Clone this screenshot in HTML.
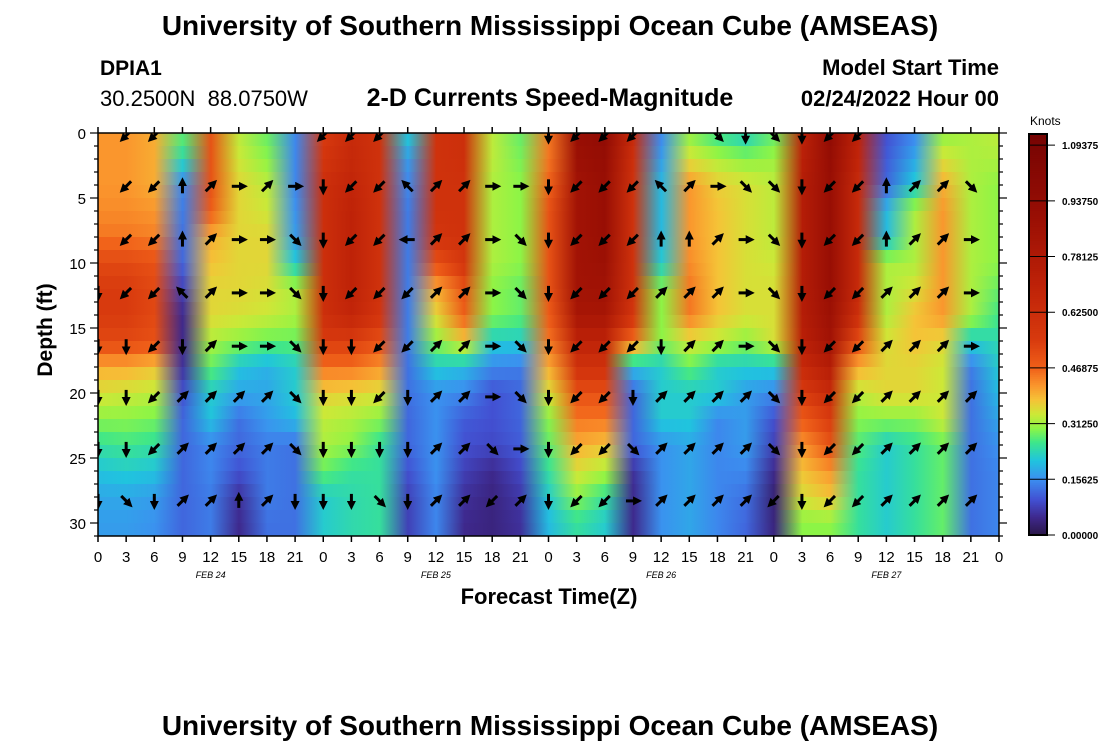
<!DOCTYPE html>
<html><head><meta charset="utf-8">
<style>
body{margin:0;background:#fff;width:1100px;height:750px;overflow:hidden;font-family:"Liberation Sans",Arial,sans-serif;}
svg text{font-family:"Liberation Sans",Arial,sans-serif;}
</style></head>
<body>
<svg id="chart" width="1100" height="750" xmlns="http://www.w3.org/2000/svg">
<defs id="defs">
<clipPath id="plotclip"><rect x="98" y="133" width="901" height="403"/></clipPath>
<marker id="ah" markerWidth="9" markerHeight="9" refX="2" refY="4.5" orient="auto" markerUnits="userSpaceOnUse"><path d="M0,0 L9,4.5 L0,9 z" fill="#000"/></marker>
</defs>
<text x="550" y="35" text-anchor="middle" font-size="28" font-weight="bold">University of Southern Mississippi Ocean Cube (AMSEAS)</text>
<text x="100" y="75" font-size="21" font-weight="bold">DPIA1</text>
<text x="100" y="106" font-size="22" xml:space="preserve">30.2500N  88.0750W</text>
<text x="550" y="106" text-anchor="middle" font-size="25" font-weight="bold">2-D Currents Speed-Magnitude</text>
<text x="999" y="75" text-anchor="end" font-size="22" font-weight="bold">Model Start Time</text>
<text x="999" y="106" text-anchor="end" font-size="22" font-weight="bold">02/24/2022 Hour 00</text>
<g id="heat" clip-path="url(#plotclip)"><g id="cells"></g></g>
<g id="arrows" clip-path="url(#plotclip)"></g>
<rect x="98" y="133" width="901" height="403" fill="none" stroke="#000" stroke-width="1.5"/>
<g id="axes"></g>
<text x="549" y="604" text-anchor="middle" font-size="22" font-weight="bold">Forecast Time(Z)</text>
<text transform="translate(52,330) rotate(-90)" text-anchor="middle" font-size="21" font-weight="bold">Depth (ft)</text>
<g id="colorbar"></g>
<text x="1030" y="125" font-size="12">Knots</text>
<text x="550" y="735" text-anchor="middle" font-size="28" font-weight="bold">University of Southern Mississippi Ocean Cube (AMSEAS)</text>
</svg>
<script>
// ---- data ----
const hours = [0,3,6,9,12,15,18,21,24,27,30,33,36,39,42,45,48,51,54,57,60,63,66,69,72,75,78,81,84,87,90,93,96];
const depths = [0,2,4,6,8,10,12,14,16,18,20,22,24,26,28,30];
const speedT0  = [0.42,0.42,0.42,0.43,0.45,0.52,0.55,0.55,0.52,0.40,0.35,0.30,0.25,0.21,0.18,0.17];
const speedT3  = [0.42,0.42,0.42,0.43,0.45,0.52,0.55,0.55,0.52,0.40,0.34,0.30,0.26,0.22,0.18,0.17];
const speedT6  = [0.40,0.40,0.40,0.42,0.44,0.50,0.52,0.52,0.50,0.38,0.33,0.29,0.25,0.21,0.17,0.16];
const speedT9  = [0.28,0.24,0.15,0.14,0.13,0.12,0.08,0.05,0.05,0.06,0.10,0.12,0.12,0.12,0.12,0.12];
const speedT12 = [0.50,0.50,0.50,0.48,0.40,0.38,0.36,0.36,0.32,0.28,0.22,0.21,0.15,0.15,0.14,0.14];
const speedT15 = [0.33,0.34,0.36,0.36,0.36,0.36,0.36,0.35,0.30,0.21,0.18,0.13,0.12,0.10,0.06,0.05];
const speedT18 = [0.28,0.30,0.33,0.34,0.36,0.36,0.35,0.34,0.28,0.19,0.18,0.17,0.14,0.14,0.14,0.13];
const speedT21 = [0.15,0.15,0.15,0.16,0.17,0.22,0.32,0.32,0.28,0.22,0.22,0.20,0.13,0.13,0.13,0.13];
const speedT24 = [0.55,0.58,0.62,0.62,0.62,0.62,0.62,0.62,0.55,0.45,0.37,0.33,0.32,0.28,0.22,0.22];
const speedT27 = [0.65,0.66,0.68,0.70,0.70,0.70,0.70,0.68,0.55,0.45,0.36,0.32,0.30,0.25,0.24,0.24];
const speedT30 = [0.60,0.60,0.60,0.60,0.60,0.60,0.60,0.58,0.50,0.42,0.35,0.30,0.25,0.25,0.25,0.25];
const speedT33 = [0.22,0.17,0.15,0.14,0.14,0.14,0.14,0.14,0.14,0.13,0.13,0.12,0.12,0.10,0.08,0.08];
const speedT36 = [0.60,0.60,0.60,0.60,0.58,0.50,0.40,0.36,0.30,0.22,0.16,0.16,0.16,0.16,0.15,0.15];
const speedT39 = [0.62,0.62,0.60,0.60,0.60,0.58,0.50,0.48,0.37,0.20,0.15,0.11,0.10,0.08,0.06,0.05];
const speedT42 = [0.33,0.33,0.32,0.32,0.32,0.32,0.30,0.30,0.22,0.15,0.10,0.10,0.09,0.05,0.04,0.04];
const speedT45 = [0.28,0.29,0.30,0.30,0.30,0.30,0.28,0.28,0.22,0.14,0.12,0.12,0.11,0.09,0.07,0.06];
const speedT48 = [0.45,0.45,0.47,0.50,0.50,0.50,0.50,0.48,0.45,0.40,0.35,0.30,0.28,0.25,0.22,0.20];
const speedT51 = [0.90,0.88,0.85,0.85,0.85,0.85,0.85,0.82,0.70,0.60,0.50,0.45,0.40,0.35,0.30,0.25];
const speedT54 = [0.95,0.92,0.90,0.90,0.90,0.88,0.86,0.82,0.70,0.60,0.50,0.45,0.38,0.32,0.25,0.22];
const speedT57 = [0.65,0.62,0.60,0.60,0.60,0.60,0.60,0.58,0.45,0.20,0.12,0.12,0.12,0.06,0.05,0.05];
const speedT60 = [0.15,0.17,0.20,0.20,0.20,0.22,0.30,0.30,0.30,0.22,0.22,0.22,0.16,0.16,0.16,0.16];
const speedT63 = [0.30,0.35,0.42,0.42,0.42,0.43,0.45,0.45,0.35,0.28,0.22,0.22,0.18,0.18,0.18,0.18];
const speedT66 = [0.25,0.32,0.37,0.38,0.38,0.38,0.38,0.38,0.33,0.22,0.22,0.15,0.15,0.15,0.15,0.15];
const speedT69 = [0.22,0.30,0.35,0.35,0.35,0.35,0.35,0.35,0.30,0.22,0.17,0.17,0.17,0.15,0.13,0.12];
const speedT72 = [0.28,0.31,0.33,0.33,0.33,0.34,0.35,0.35,0.35,0.22,0.15,0.10,0.08,0.05,0.03,0.04];
const speedT75 = [0.70,0.72,0.75,0.75,0.75,0.75,0.75,0.75,0.72,0.65,0.55,0.48,0.42,0.38,0.35,0.30];
const speedT78 = [0.95,0.92,0.90,0.90,0.90,0.90,0.90,0.88,0.85,0.75,0.65,0.55,0.50,0.42,0.38,0.30];
const speedT81 = [0.70,0.68,0.65,0.65,0.65,0.65,0.65,0.62,0.50,0.40,0.33,0.30,0.27,0.25,0.25,0.25];
const speedT84 = [0.10,0.11,0.12,0.20,0.20,0.32,0.32,0.32,0.35,0.36,0.36,0.30,0.22,0.22,0.22,0.22];
const speedT87 = [0.15,0.18,0.22,0.32,0.32,0.32,0.35,0.38,0.38,0.36,0.36,0.30,0.25,0.25,0.25,0.25];
const speedT90 = [0.30,0.35,0.40,0.42,0.42,0.42,0.42,0.42,0.36,0.34,0.34,0.34,0.28,0.28,0.28,0.28];
const speedT93 = [0.32,0.32,0.32,0.32,0.32,0.32,0.32,0.32,0.22,0.14,0.13,0.13,0.13,0.13,0.13,0.13];
const speedT96 = [0.33,0.32,0.30,0.30,0.30,0.30,0.28,0.26,0.24,0.22,0.20,0.18,0.16,0.15,0.15,0.15];
const speedColumns = [speedT0,speedT3,speedT6,speedT9,speedT12,speedT15,speedT18,speedT21,speedT24,speedT27,speedT30,speedT33,speedT36,speedT39,speedT42,speedT45,speedT48,speedT51,speedT54,speedT57,speedT60,speedT63,speedT66,speedT69,speedT72,speedT75,speedT78,speedT81,speedT84,speedT87,speedT90,speedT93,speedT96];
// d=S l=SW L=W q=NW u=N r=NE R=E s=SE .=none
const arrowDepths = [0.2,4.1,8.2,12.3,16.4,20.3,24.3,28.3];
const arrowRow0  = ".ll.....lll.....dlll..sdsdll....";
const arrowRow4  = ".llurRrRdllqrrRRdlllqrRssdllurrs";
const arrowRow8  = ".llurRRsdllLrrRsdllluurRsdllurrR";
const arrowRow12 = "dllqrRRsdlllrrRsdlllrrrRsdllrrrR";
const arrowRow16 = "ddldrRRsddllrrRsdllldrrRsdllrrrR";
const arrowRow20 = "ddlrrrrsddldrrRsdlldrrrrsdllrrrr";
const arrowRow24 = "ddlrrrrsddddrrsRdllsrrrrsdllrrrr";
const arrowRow28 = "dsdrrurdddsdrrlrdllRrrrrldllrrrr";
const arrowRows = [arrowRow0,arrowRow4,arrowRow8,arrowRow12,arrowRow16,arrowRow20,arrowRow24,arrowRow28];
const xTickLabels = ["0","3","6","9","12","15","18","21","0","3","6","9","12","15","18","21","0","3","6","9","12","15","18","21","0","3","6","9","12","15","18","21","0"];
const yTickValues = [0,5,10,15,20,25,30];
const dateLabels = ["FEB 24","FEB 25","FEB 26","FEB 27"];
const dateHours = [12,36,60,84];
const cbarTicks = [0,0.15625,0.3125,0.46875,0.625,0.78125,0.9375,1.09375];

// ---- scales ----
const X0=98,X1=999,Y0=133,Y1=536;
const xs = h => X0 + (h/96)*(X1-X0);
const ys = d => Y0 + d*13;
const cbY = v => 535 - (v/1.125)*401;
const stops = [[0,[42,22,70]],[0.05,[62,40,140]],[0.1,[66,80,210]],[0.156,[60,142,240]],[0.21,[32,196,222]],[0.26,[60,230,140]],[0.3,[140,245,70]],[0.34,[205,232,55]],[0.38,[245,195,55]],[0.42,[250,150,45]],[0.47,[240,96,25]],[0.55,[216,58,14]],[0.7,[190,34,8]],[0.9,[152,14,4]],[1.125,[118,4,3]]];
function color(v){
  for(let i=1;i<stops.length;i++){ if(v<=stops[i][0]){const a=stops[i-1],b=stops[i];const f=(v-a[0])/(b[0]-a[0]);
    return 'rgb('+a[1].map((c,k)=>Math.round(c+(b[1][k]-c)*f)).join(',')+')';}}
  return 'rgb(118,4,3)';
}
const NS='http://www.w3.org/2000/svg';
function el(tag,attrs,parent){const e=document.createElementNS(NS,tag);for(const k in attrs)e.setAttribute(k,attrs[k]);parent.appendChild(e);return e;}

// value of a column at a given depth (linear between depth samples)
function colAt(i,d){
  const col=speedColumns[i];
  if(d<=depths[0]) return col[0];
  for(let j=1;j<depths.length;j++){ if(d<=depths[j]){const f=(d-depths[j-1])/(depths[j]-depths[j-1]);return col[j-1]+(col[j]-col[j-1])*f;} }
  return col[col.length-1];
}

// ---- heatmap: each cell spans two hour columns, shaded with a gradient between them ----
const cells=document.getElementById('cells');
const defs=document.getElementById('defs');
const STEP=1;
let gid=0;
for(let i=0;i<hours.length-1;i++){
  for(let d=0; d<31; d+=STEP){
    const dm=d+STEP/2;
    const va=colAt(i,dm), vb=colAt(i+1,dm);
    const g=el('linearGradient',{id:'g'+gid},defs);
    el('stop',{offset:'0','stop-color':color(va)},g);
    el('stop',{offset:'1','stop-color':color(vb)},g);
    const xa=xs(hours[i]), xb=xs(hours[i+1]);
    const r=el('rect',{x:xa,y:ys(d),width:xb-xa+0.5,height:STEP*13+0.5,fill:'url(#g'+gid+')'},cells);
    
    
    gid++;
  }
}

// ---- arrows ----
const ang={d:90,l:135,L:180,q:225,u:270,r:315,R:0,s:45};
const ag=document.getElementById('arrows');
arrowRows.forEach((row,j)=>{
  for(let i=0;i<row.length;i++){
    const c=row[i]; if(c==='.')continue;
    const a=ang[c]*Math.PI/180, cx=xs(hours[i]), cy=ys(arrowDepths[j]);
    const dx=Math.cos(a)*7, dy=Math.sin(a)*7;
    const ln=el('line',{x1:cx-dx,y1:cy-dy,x2:cx+dx*0.3,y2:cy+dy*0.3,stroke:'#000','stroke-width':3,'marker-end':'url(#ah)'},ag);
    
    
  }
});

// ---- axes ----
const ax=document.getElementById('axes');
hours.forEach((h,i)=>{
  const x=xs(h);
  el('line',{x1:x,y1:Y1,x2:x,y2:Y1+6,stroke:'#000','stroke-width':1.5},ax);
  el('line',{x1:x,y1:Y0,x2:x,y2:Y0-6,stroke:'#000','stroke-width':1.5},ax);
  const t=el('text',{x:x,y:562,'text-anchor':'middle','font-size':15},ax);
  t.textContent=xTickLabels[i];
  
  
});
dateLabels.forEach((s,i)=>{
  const t=el('text',{x:xs(dateHours[i]),y:578,'text-anchor':'middle','font-size':9,'font-style':'italic','font-family':'Liberation Mono, monospace'},ax);
  t.textContent=s;
  
  
});
for(let d=0;d<=31;d++){
  const y=ys(d), major=d%5===0, len=major?8:4;
  el('line',{x1:X0,y1:y,x2:X0-len,y2:y,stroke:'#000','stroke-width':1.2},ax);
  el('line',{x1:X1,y1:y,x2:X1+len,y2:y,stroke:'#000','stroke-width':1.2},ax);
}
yTickValues.forEach(v=>{
  const t=el('text',{x:86,y:ys(v)+6,'text-anchor':'end','font-size':15},ax);
  t.textContent=String(v);
  
  
});

// ---- colorbar ----
const cb=document.getElementById('colorbar');
for(let k=0;k<200;k++){
  const v0=k/200*1.125, v1=(k+1)/200*1.125;
  el('rect',{x:1029,y:cbY(v1),width:18,height:cbY(v0)-cbY(v1)+0.5,fill:color((v0+v1)/2)},cb);
}
el('rect',{x:1029,y:134,width:18,height:401,fill:'none',stroke:'#000','stroke-width':2},cb);
cbarTicks.forEach(v=>{
  const y=cbY(v);
  el('line',{x1:1029,y1:y,x2:1055,y2:y,stroke:'#000','stroke-width':1},cb);
  const t=el('text',{x:1062,y:y+4,'font-size':10,'font-weight':'bold'},cb);
  t.textContent=v.toFixed(5);
  
  
});
</script>
</body></html>
